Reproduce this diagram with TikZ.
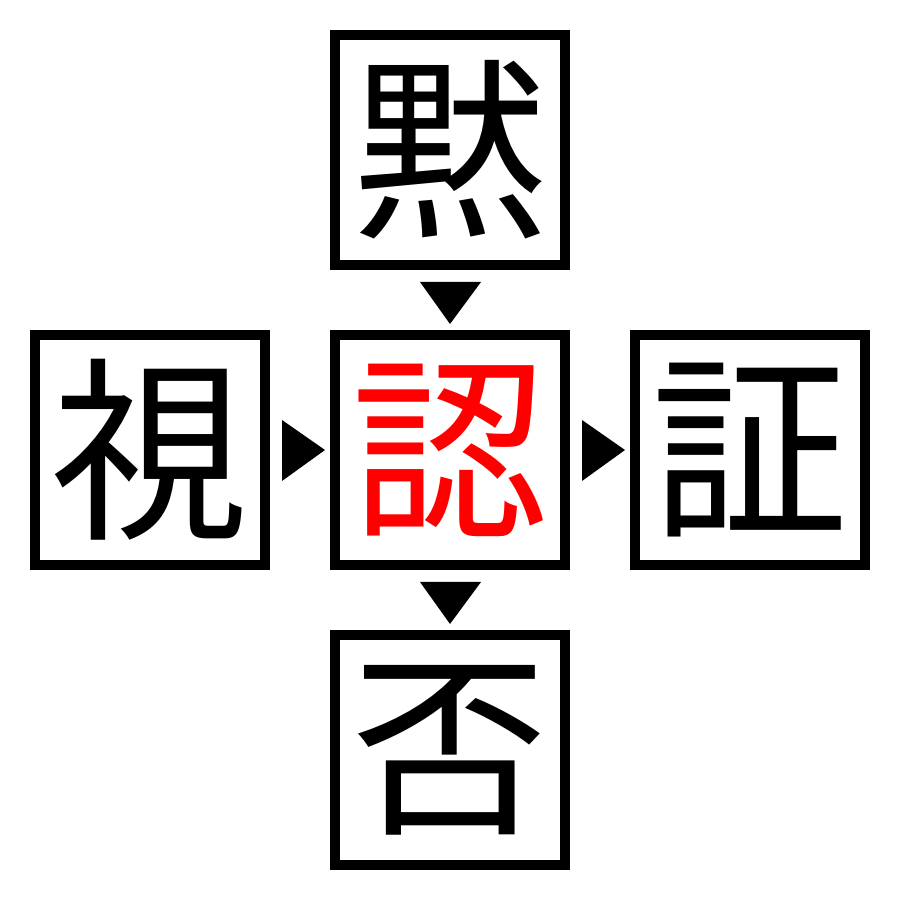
\documentclass[tikz,border=0pt]{standalone}
\usepackage{fontspec}
\newfontfamily\cjk{Noto Sans CJK JP}
\usepackage{tikz}
\usetikzlibrary{positioning}

\begin{document}
\begin{tikzpicture}[
    kbox/.style={draw,line width=0.1cm,minimum size=2.3cm,inner sep=0pt,
      font=\cjk\fontsize{56}{56}\selectfont}]
  \useasboundingbox (0,0) rectangle (9,9);

  \node[kbox] (mid) at (4.5,4.5) {\textcolor{red}{認}};
  \node[kbox,above=0.6cm of mid] (top) {黙};
  \node[kbox,left=0.6cm of mid] (left) {視};
  \node[kbox,right=0.6cm of mid] (right) {証};
  \node[kbox,below=0.6cm of mid] (bottom) {否};

  \fill (4.2,6.18) -- (4.81,6.18) -- (4.5,5.76) -- cycle;
  \fill (2.82,4.80) -- (2.82,4.19) -- (3.25,4.5) -- cycle;
  \fill (5.82,4.80) -- (5.82,4.19) -- (6.25,4.5) -- cycle;
  \fill (4.2,3.18) -- (4.81,3.18) -- (4.5,2.76) -- cycle;
\end{tikzpicture}
\end{document}
